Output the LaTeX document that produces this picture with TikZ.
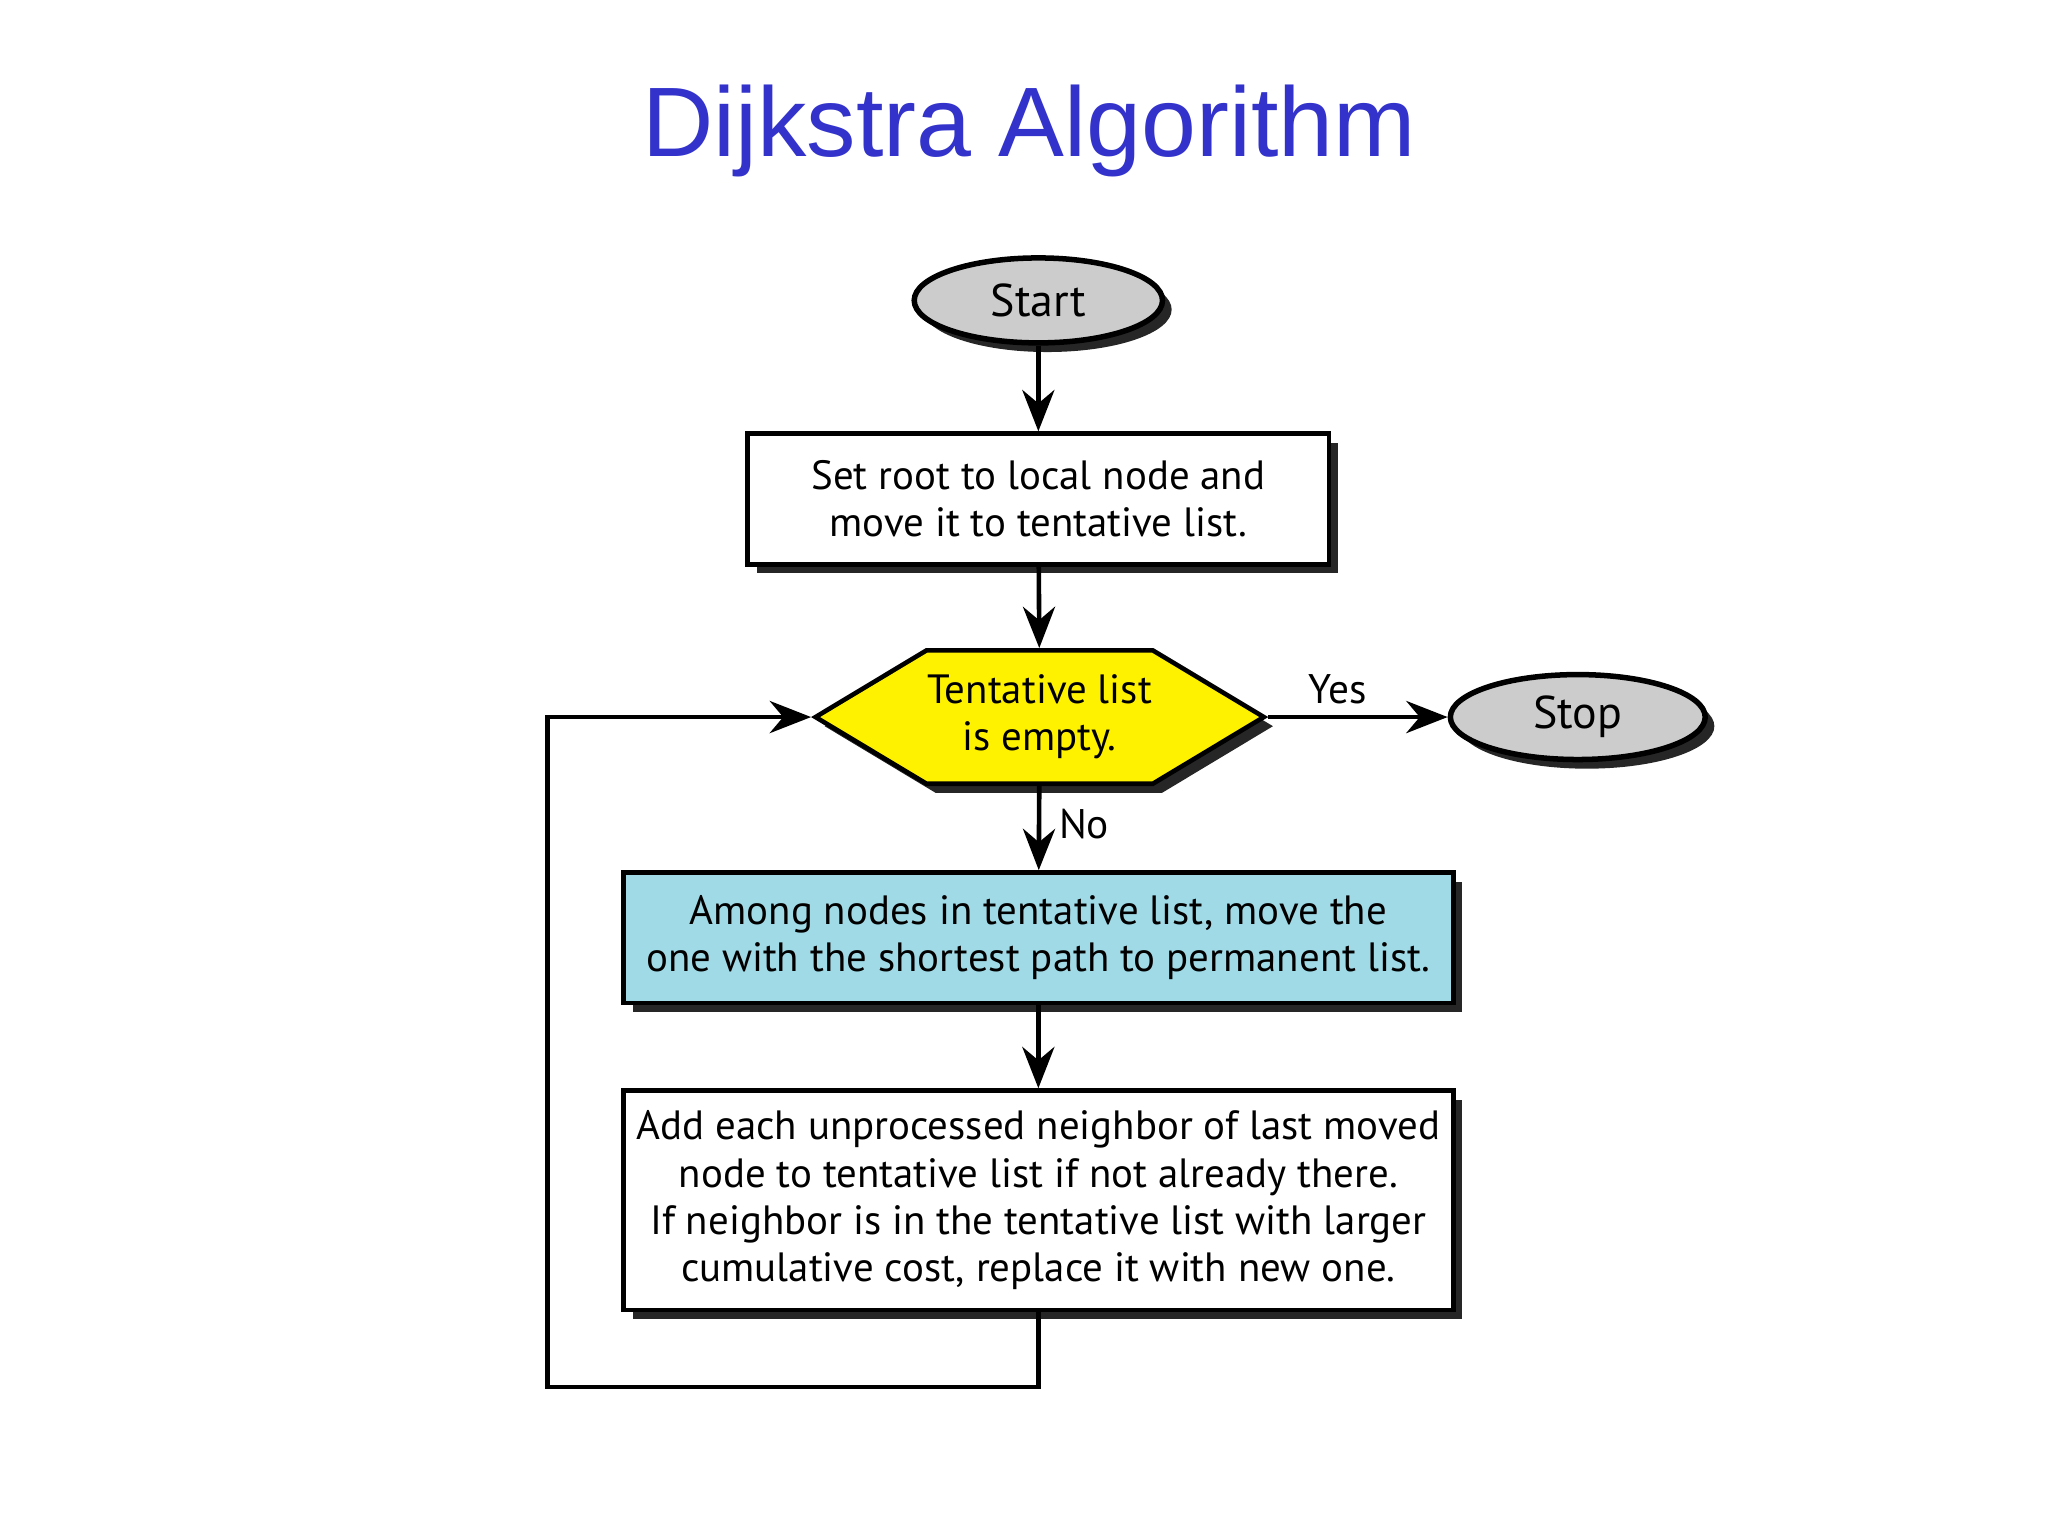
\documentclass[tikz,border=0pt]{standalone}
\usepackage{fontspec}
\setmainfont{PT Sans}
\newfontfamily\titlefont{Liberation Sans}
\usetikzlibrary{shapes.geometric,shapes.symbols,shadows,arrows.meta}
\definecolor{titleblue}{RGB}{51,51,204}
\definecolor{lblue}{RGB}{160,218,230}
\begin{document}
\begin{tikzpicture}[x=0.01cm,y=-0.01cm,
  sh/.style={drop shadow={shadow xshift=0.07cm,shadow yshift=-0.07cm,fill=black!85,opacity=1}},
  term/.style={ellipse,draw,line width=1.2pt,fill=black!20,sh,font=\fontsize{10}{12}\selectfont,inner sep=0pt},
  box/.style={rectangle,draw,line width=1pt,fill=white,sh,align=center,font=\fontsize{8.9}{10.3}\selectfont,inner sep=0pt},
  arr/.style={line width=1pt,-{Stealth[length=9pt,width=7pt]}}]
\useasboundingbox (0,0) rectangle (1568,1176);
\node[text=titleblue,font=\titlefont\fontsize{21.5}{26}\selectfont] (title) at (788,100) {Dijkstra Algorithm};
\node[term,minimum width=1.9cm,minimum height=0.65cm] (start) at (795,230) {Start};
\node[box,minimum width=4.45cm,minimum height=1cm] (b1) at (795,382) {Set root to local node and\\move it to tentative list.};
\node[signal,signal to=east and west,signal pointer angle=62,draw,line width=1pt,fill=yellow,sh,
  minimum width=3.43cm,minimum height=1.02cm,inner sep=0pt,align=center,font=\fontsize{8.9}{10.3}\selectfont] (hex) at (796,549) {Tentative list\\is empty.};
\node[term,minimum width=1.95cm,minimum height=0.65cm] (stop) at (1208,549) {Stop};
\node[box,fill=lblue,minimum width=6.35cm,minimum height=1cm] (b2) at (795,718) {Among nodes in tentative list, move the\\one with the shortest path to permanent list.};
\node[box,minimum width=6.35cm,minimum height=1.68cm] (b3) at (795,919) {Add each unprocessed neighbor of last moved\\node to tentative list if not already there.\\If neighbor is in the tentative list with larger\\cumulative cost, replace it with new one.};
\coordinate (c1) at (795,1062);
\coordinate (c2) at (419,1062);
\coordinate (c3) at (419,549);
\node[font=\fontsize{9}{11}\selectfont] (yes) at (1024,528) {Yes};
\node[font=\fontsize{9}{11}\selectfont] (no) at (830,631) {No};
\draw[arr] (start) -- (b1);
\draw[arr] (b1) -- (hex);
\draw[arr] (hex.east) -- (stop);
\draw[arr] (hex) -- (b2);
\draw[arr] (b2) -- (b3);
\draw[arr] (b3.south) -- (c1) -- (c2) -- (c3) -- (hex.west);
\end{tikzpicture}
\end{document}
